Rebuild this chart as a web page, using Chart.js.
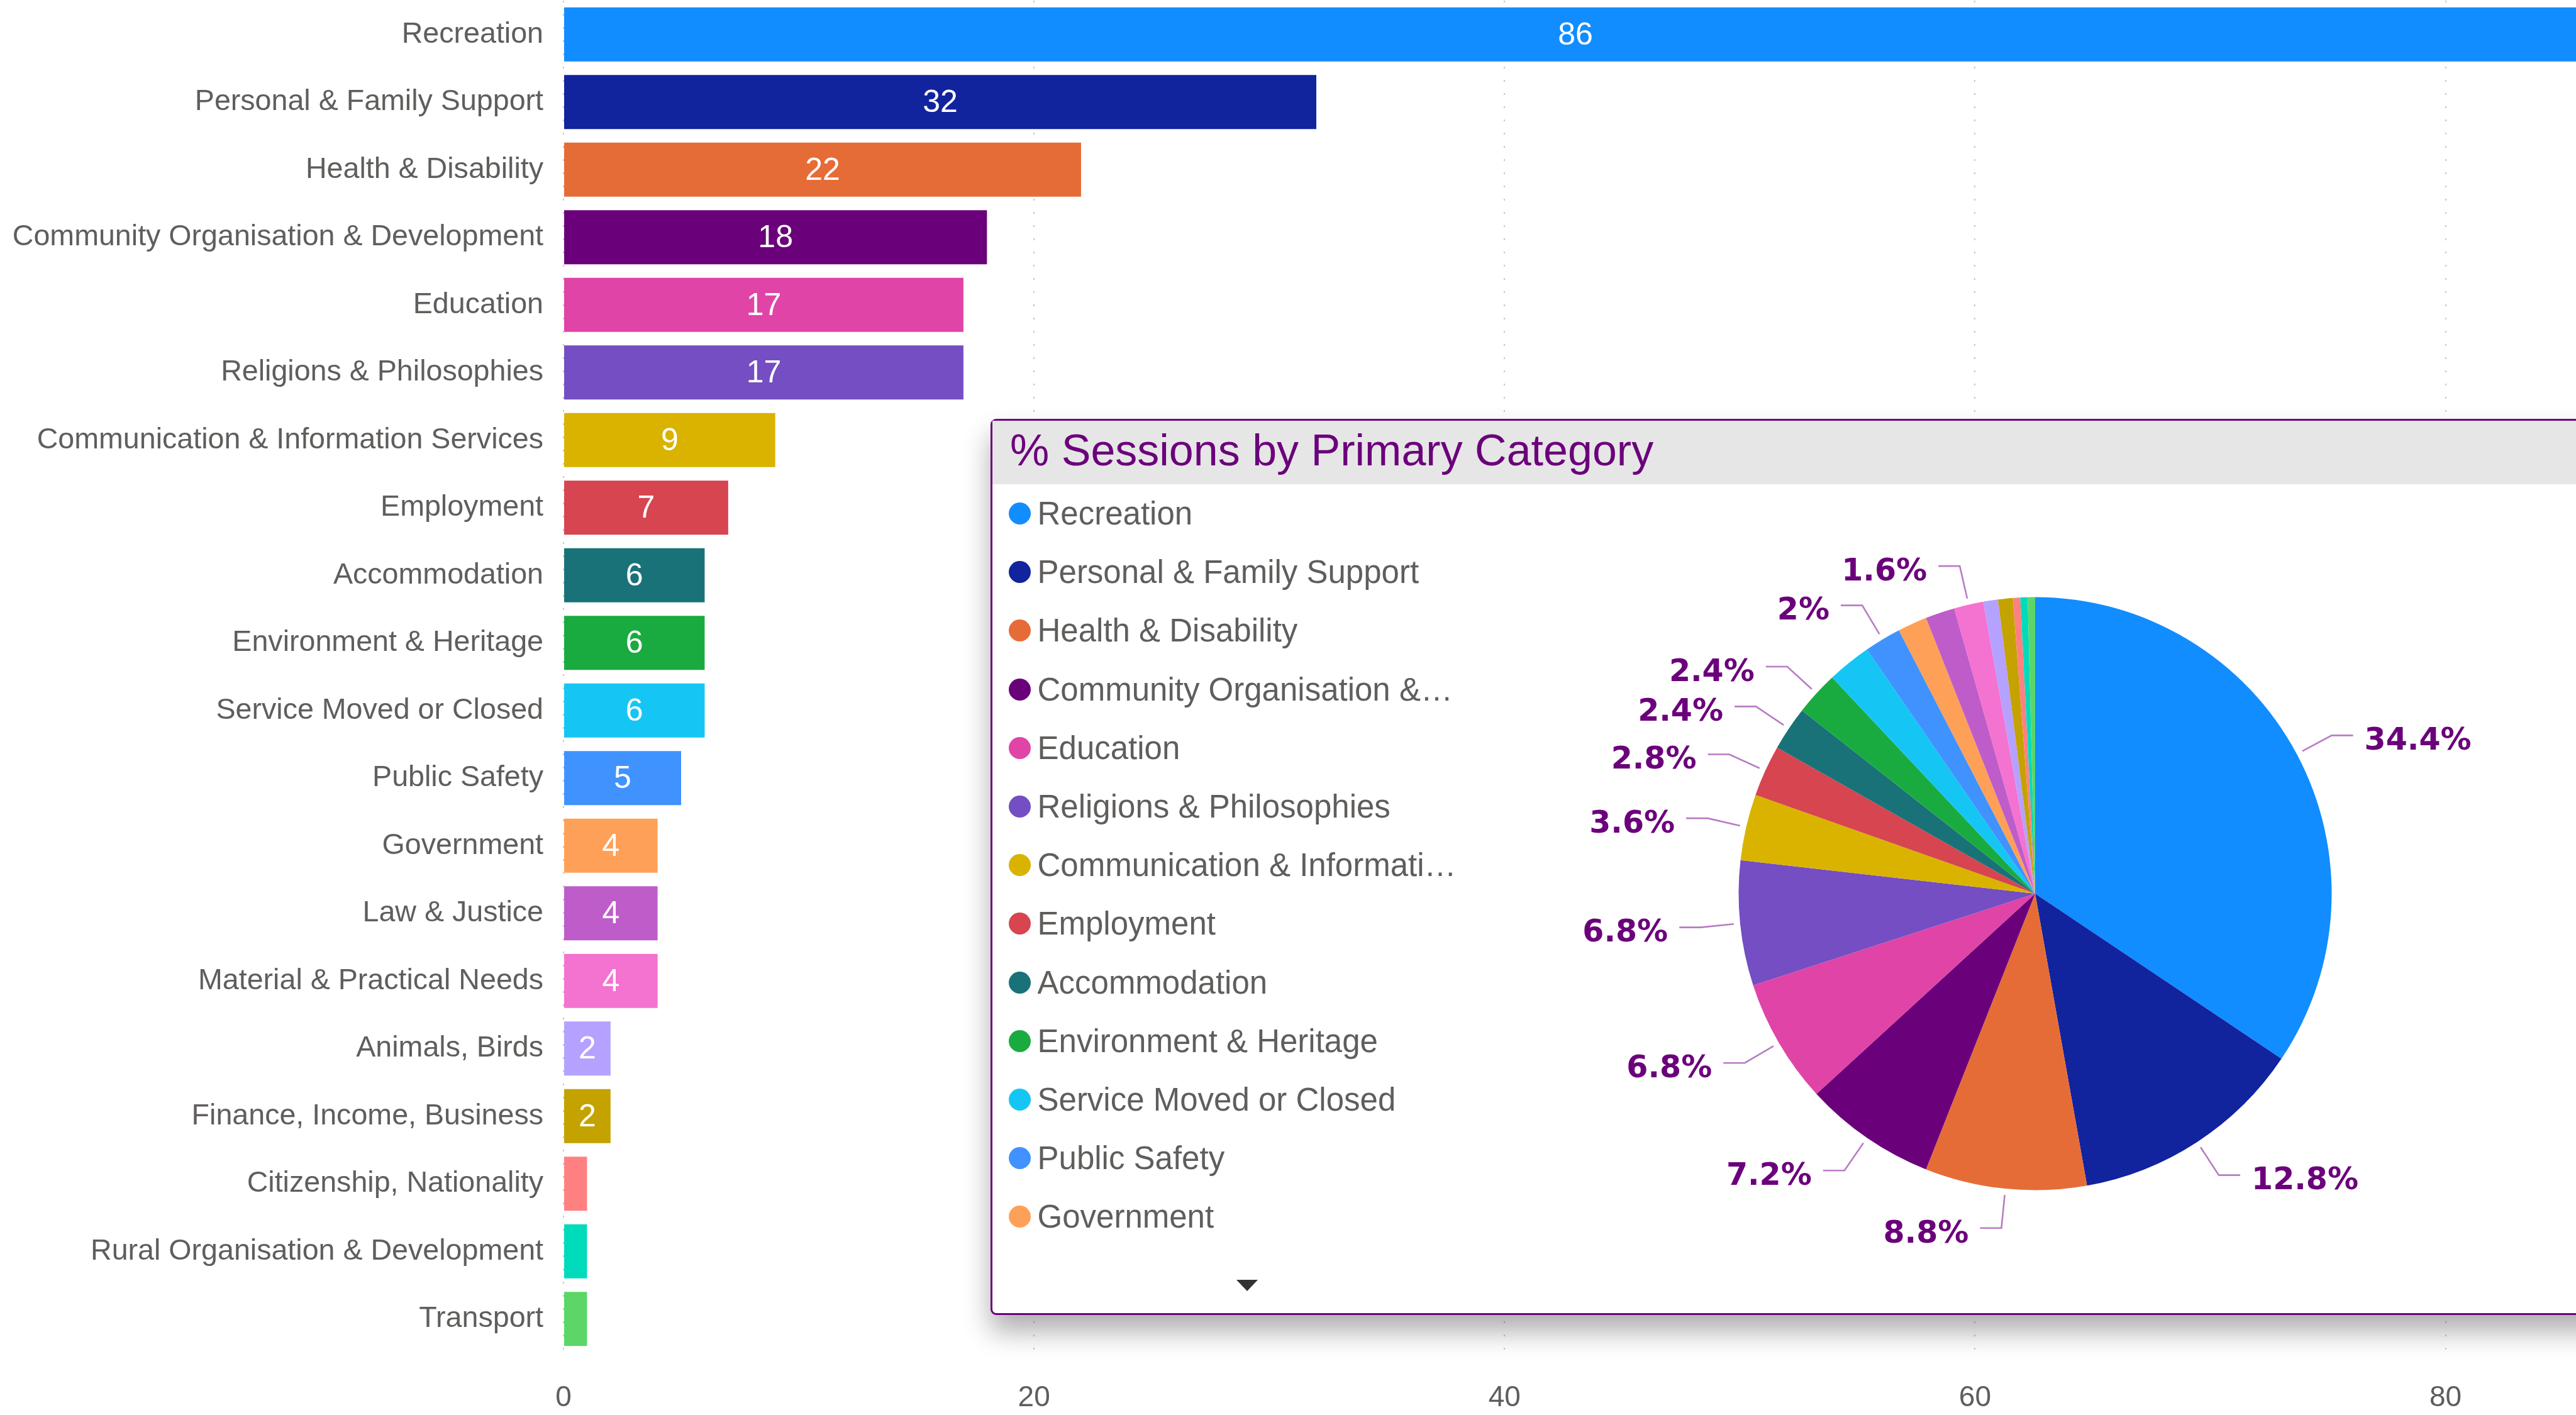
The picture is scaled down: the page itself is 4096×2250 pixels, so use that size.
<!DOCTYPE html>
<html>
<head>
<meta charset="utf-8">
<title>Sessions by Primary Category</title>
<script src="https://cdn.jsdelivr.net/npm/chart.js@4.4.1/dist/chart.umd.min.js"></script>
<style>
  html, body { margin:0; padding:0; width:4096px; height:2250px; overflow:hidden; background:#fff;
               font-family:"Liberation Sans", Arial, sans-serif; }
  #barBox { position:absolute; left:0; top:0; z-index:1; }
  #panel { position:absolute; left:1575px; top:666px; width:2700px; height:1425px; box-sizing:border-box;
           border:3px solid #6b007b; border-radius:9px; background:#fff; z-index:2;
           box-shadow:0 26px 44px rgba(0,0,0,.32); }
  #panelHead { position:absolute; left:1578px; top:669px; width:2700px; height:101px; background:#e6e6e6; z-index:3; }
  #panelTitle { position:absolute; left:1606px; top:681px; font-size:70px; line-height:70px; color:#6b007b;
                white-space:nowrap; z-index:4; }
  #pieLegend { position:absolute; left:1604px; top:770px; margin:0; padding:0; list-style:none; z-index:4; }
  #pieLegend li { height:93.2px; display:flex; align-items:center; }
  #pieLegend i { width:35px; height:35px; border-radius:50%; margin-right:10.5px; flex:none; }
  #pieLegend span { font-size:51px; color:#605e5c; max-width:670px; white-space:nowrap; overflow:hidden;
                    text-overflow:ellipsis; }
  #pieBox { position:absolute; left:2400px; top:780px; z-index:4; }
  #legendMore { position:absolute; left:1966px; top:2035px; width:0; height:0; z-index:4;
                border-left:17px solid transparent; border-right:17px solid transparent; border-top:18px solid #333; }
</style>
</head>
<body>
<div id="barBox"><canvas id="chartBar" width="4120" height="2250"></canvas></div>

<div id="panel"></div>
<div id="panelHead"></div>
<div id="panelTitle">% Sessions by Primary Category</div>
<ul id="pieLegend"></ul>
<div id="pieBox"><canvas id="chartPie" width="1696" height="1300"></canvas></div>
<div id="legendMore"></div>

<script>
const categories = [
  'Recreation', 'Personal & Family Support', 'Health & Disability', 'Community Organisation & Development',
  'Education', 'Religions & Philosophies', 'Communication & Information Services', 'Employment',
  'Accommodation', 'Environment & Heritage', 'Service Moved or Closed', 'Public Safety', 'Government',
  'Law & Justice', 'Material & Practical Needs', 'Animals, Birds', 'Finance, Income, Business',
  'Citizenship, Nationality', 'Rural Organisation & Development', 'Transport'
];
const sessions = [86, 32, 22, 18, 17, 17, 9, 7, 6, 6, 6, 5, 4, 4, 4, 2, 2, 1, 1, 1];
const colors = [
  '#118dff', '#12239e', '#e66c37', '#6b007b', '#e044a7', '#744ec2', '#d9b300', '#d64550',
  '#197278', '#1aab40', '#15c6f4', '#4092ff', '#ffa058', '#be5dc9', '#f472d0', '#b5a1ff',
  '#c4a200', '#ff8080', '#00dbbc', '#5bd667'
];
const xTicks = [0, 20, 40, 60, 80];
const xMax = 86;
// slices whose % label is shown on the pie (the others are hidden, too crowded)
const labelledSlices = [0, 1, 2, 3, 4, 5, 6, 7, 8, 9, 11, 14];
// legend rows visible before the scroll arrow
const legendRows = 13;

document.addEventListener('DOMContentLoaded', () => {
  const $ = (s, r=document) => r.querySelector(s);
  const FONT = '"Liberation Sans", Arial, sans-serif';
  Chart.defaults.font.family = FONT;

  /* ------------------------------
   * bar chart: sessions per category
   * ------------------------------ */
  const barValueLabels = {
    id: 'barValueLabels',
    afterDatasetsDraw(chart) {
      const { ctx } = chart;
      const meta = chart.getDatasetMeta(0);
      ctx.save();
      ctx.font = '50px ' + FONT;
      ctx.fillStyle = '#fff';
      ctx.textAlign = 'center';
      ctx.textBaseline = 'middle';
      meta.data.forEach((bar, i) => {
        if (bar.x - bar.base < 60) return;  // too narrow, no label
        ctx.fillText(sessions[i], (bar.x + bar.base) / 2, bar.y + 2);
      });
      ctx.restore();
    }
  };

  // no extra room for half labels at the ends of the axes
  const noEdgePadding = a => {
    a.paddingTop = 0; a.paddingBottom = 0; a.paddingLeft = 0; a.paddingRight = 0;
  };

  new Chart($('#chartBar'), {
    type: 'bar',
    data: {
      labels: categories,
      datasets: [{
        data: sessions,
        backgroundColor: colors,
        categoryPercentage: 1,
        barPercentage: 0.8
      }]
    },
    options: {
      indexAxis: 'y',
      responsive: false,
      animation: false,
      layout: { padding: { top: 1, right: 7, bottom: 0, left: 0 } },
      plugins: { legend: { display: false }, tooltip: { enabled: false } },
      scales: {
        x: {
          min: 0,
          max: xMax,
          afterBuildTicks: a => { a.ticks = xTicks.map(v => ({ value: v })); },
          afterFit: a => { noEdgePadding(a); a.height = 99; },
          grid: { color: '#c8c8c8', lineWidth: 2, drawTicks: false },
          border: { display: false, dash: [3, 18] },
          ticks: { color: '#605e5c', font: { size: 46 }, padding: 45 }
        },
        y: {
          afterFit: a => { noEdgePadding(a); a.width = 896; },
          grid: { display: false, drawTicks: false },
          border: { display: false },
          ticks: { color: '#605e5c', font: { size: 46.6 }, padding: 32, autoSkip: false }
        }
      }
    },
    plugins: [barValueLabels]
  });

  /* ------------------------------
   * pie: % sessions by primary category
   * ------------------------------ */
  const total = sessions.reduce((a, b) => a + b, 0);
  const pct = v => Math.round(v / total * 1000) / 10 + '%';

  const pieOutsideLabels = {
    id: 'pieOutsideLabels',
    afterDatasetsDraw(chart) {
      const { ctx } = chart;
      const meta = chart.getDatasetMeta(0);
      ctx.save();
      ctx.font = 'bold 49px "DejaVu Sans", sans-serif';
      ctx.lineWidth = 2.6;
      ctx.strokeStyle = '#b87cc4';
      ctx.fillStyle = '#6b007b';
      ctx.textBaseline = 'middle';
      labelledSlices.forEach(i => {
        const arc = meta.data[i];
        const mid = (arc.startAngle + arc.endAngle) / 2;
        const c = Math.cos(mid), s = Math.sin(mid);
        const r0 = arc.outerRadius + 10, r1 = arc.outerRadius + 63;
        const x1 = arc.x + c * r1, y1 = arc.y + s * r1;
        const dir = c >= 0 ? 1 : -1;
        const x2 = x1 + dir * 34;
        ctx.beginPath();
        ctx.moveTo(arc.x + c * r0, arc.y + s * r0);
        ctx.lineTo(x1, y1);
        ctx.lineTo(x2, y1);
        ctx.stroke();
        ctx.textAlign = dir > 0 ? 'left' : 'right';
        ctx.fillText(pct(sessions[i]), x2 + dir * 18, y1 + 10);
      });
      ctx.restore();
    }
  };

  new Chart($('#chartPie'), {
    type: 'pie',
    data: {
      labels: categories,
      datasets: [{ data: sessions, backgroundColor: colors, borderWidth: 0 }]
    },
    options: {
      responsive: false,
      animation: false,
      layout: { padding: { left: 364.5, top: 169.5, right: 388.5, bottom: 187.5 } },
      plugins: { legend: { display: false }, tooltip: { enabled: false } }
    },
    plugins: [pieOutsideLabels]
  });

  // legend (first rows only, the rest is behind the scroll arrow)
  $('#pieLegend').innerHTML = categories.slice(0, legendRows).map(
    (c, i) => `<li><i style="background:${colors[i]}"></i><span>${c.replace(/&/g, '&amp;')}</span></li>`
  ).join('');
});
</script>
</body>
</html>
